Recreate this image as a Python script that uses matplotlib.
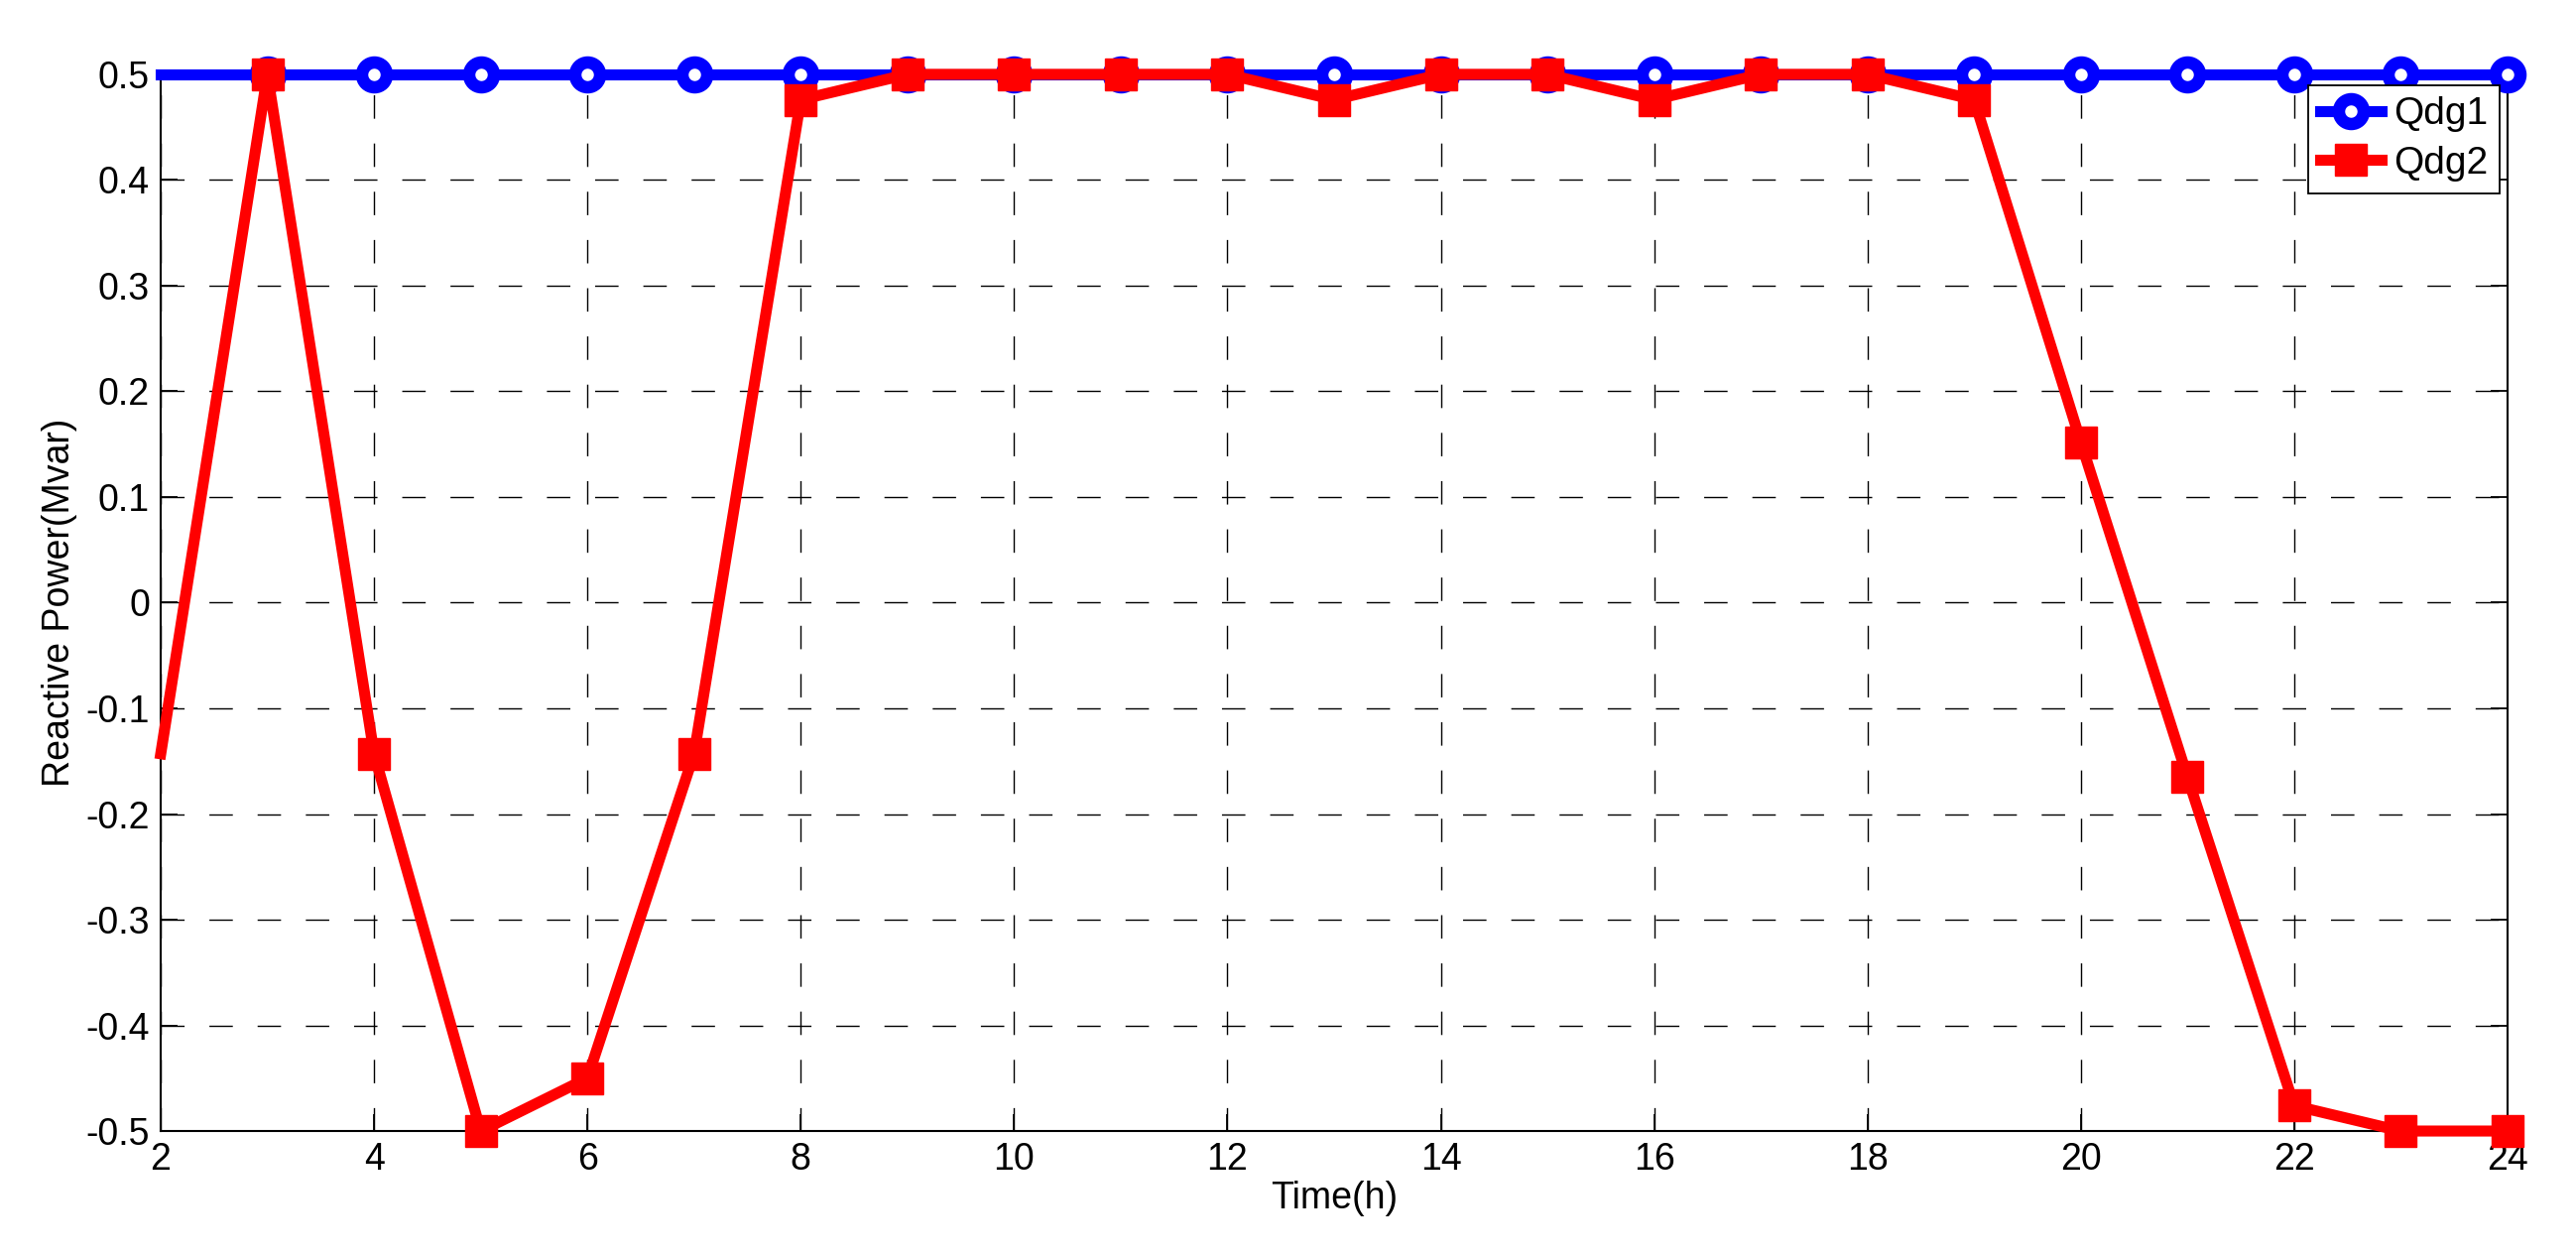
import matplotlib
matplotlib.use('Agg')
import matplotlib.pyplot as plt

hours = list(range(2, 25))
qdg1 = [0.5] * 23
qdg2 = [-0.143, 0.5, -0.143, -0.5, -0.45, -0.143, 0.476, 0.5, 0.5, 0.5, 0.5,
        0.476, 0.5, 0.5, 0.476, 0.5, 0.5, 0.476, 0.152, -0.165, -0.476, -0.5, -0.5]
x_ticks = list(range(2, 25, 2))
y_ticks = [-0.5, -0.4, -0.3, -0.2, -0.1, 0, 0.1, 0.2, 0.3, 0.4, 0.5]
y_tick_labels = ['-0.5', '-0.4', '-0.3', '-0.2', '-0.1', '0', '0.1', '0.2', '0.3', '0.4', '0.5']

plt.rcParams['font.family'] = ['Liberation Sans', 'DejaVu Sans']

fig = plt.figure(figsize=(25.97, 12.66), dpi=100)
ax = fig.add_axes([0.0624, 0.0995, 0.9734 - 0.0624, 0.9408 - 0.0995])

ax.plot(hours, qdg1, color='blue', linewidth=8, marker='o', markersize=18,
        markerfacecolor='white', markeredgecolor='blue', markeredgewidth=9,
        markevery=range(1, len(hours)), label='Qdg1', clip_on=False, zorder=3)
ax.plot(hours, qdg2, color='red', linewidth=8, marker='s', markersize=23,
        markerfacecolor='red', markeredgecolor='red', markeredgewidth=1,
        markevery=range(1, len(hours)), label='Qdg2', clip_on=False, zorder=4)

ax.set_xlim(2, 24)
ax.set_ylim(-0.5, 0.5)
ax.set_xticks(x_ticks)
ax.set_yticks(y_ticks)
ax.set_yticklabels(y_tick_labels)
ax.tick_params(direction='in', length=12, width=1.3, labelsize=27,
               top=True, right=True, pad=8)
for s in ax.spines.values():
    s.set_linewidth(1.5)
ax.grid(True, color='black', linestyle=(0, (17, 18)), linewidth=1.0)

ax.set_xlabel('Time(h)', fontsize=27, labelpad=2)
ax.set_ylabel('Reactive Power(Mvar)', fontsize=27, labelpad=6)

leg = ax.legend(loc='upper right', bbox_to_anchor=(0.9965, 0.99), fontsize=28,
                handlelength=1.6, handletextpad=0.3, borderpad=0.3,
                labelspacing=0.35, borderaxespad=0.0, fancybox=False,
                framealpha=1, edgecolor='black')
leg.get_frame().set_linewidth(1.3)
leg.set_zorder(10)

fig.savefig('out.png', dpi=100)
